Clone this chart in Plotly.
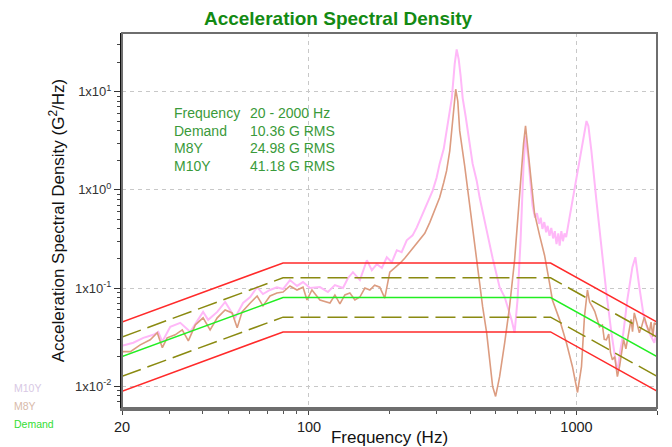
import plotly.graph_objects as go

# ---- profile (demand and tolerance lines) ----
prof_f = [20, 80, 800, 2000]
demand = [0.02, 0.08, 0.08, 0.02]
abort_hi = [0.045, 0.18, 0.18, 0.045]
abort_lo = [0.0089, 0.0357, 0.0357, 0.0089]
alarm_hi = [0.0317, 0.127, 0.127, 0.0317]
alarm_lo = [0.0126, 0.0505, 0.0505, 0.0126]

# ---- M10Y response ----
m10_f = [20, 22.05, 24.03, 26.18, 27.33, 28.29, 30.3, 33.02, 35.97, 39.2, 40.2, 42.0, 45.4,
         48.6, 50.7, 52.9, 56.7, 60.3, 64.0, 67.3, 71.5, 75.9, 80.0, 84.9, 90.2, 95.0,
         100.9, 109.9, 117.7, 125, 134, 139.8, 146, 155, 164.6, 171.8, 179.4, 187.3, 195.4,
         204, 213, 222, 232, 244, 253, 266, 283, 290, 300, 308, 319, 327, 336, 342, 347.5,
         350.5, 356.6, 362.8, 369, 375.5, 385, 392, 409, 423.6, 434.5, 461.6, 473, 486, 516,
         539, 553, 572, 587, 602, 618, 634, 645, 662, 685, 700, 712, 725, 735, 746, 758, 770,
         780, 793, 805, 818, 830, 842, 855, 865, 878, 890, 902, 915, 933, 945, 966, 1009,
         1053, 1090, 1108, 1137, 1187, 1240, 1294, 1351, 1386, 1422, 1459, 1497, 1549, 1618,
         1660, 1689, 1718, 1793, 1872, 1954, 2000]
m10_v = [0.0258, 0.0277, 0.0311, 0.0334, 0.0358, 0.0284, 0.0403, 0.0442, 0.0358, 0.0508,
         0.0571, 0.0474, 0.0571, 0.0722, 0.0598, 0.0497, 0.0705, 0.0811, 0.102, 0.0869,
         0.0955, 0.102, 0.0977, 0.1205, 0.105, 0.115, 0.100, 0.1023, 0.091, 0.107, 0.100,
         0.126, 0.145, 0.1205, 0.192, 0.152, 0.175, 0.160, 0.206, 0.183, 0.243, 0.232,
         0.306, 0.344, 0.415, 0.575, 0.835, 0.984, 1.33, 1.85, 2.62, 3.99, 5.93, 8.61, 14.4,
         19.05, 27.0, 21.4, 14.4, 8.61, 5.66, 3.99, 1.85, 1.24, 0.835, 0.387, 0.273, 0.201,
         0.102, 0.081, 0.0642, 0.0474, 0.035, 0.0756, 0.306, 1.76, 3.55, 1.98, 0.693, 0.52,
         0.58, 0.45, 0.52, 0.40, 0.47, 0.37, 0.43, 0.34, 0.41, 0.32, 0.38, 0.28, 0.36, 0.27,
         0.38, 0.30, 0.36, 0.33, 0.45, 0.55, 0.78, 1.46, 3.16, 5.03, 4.48, 2.5, 0.78, 0.243,
         0.089, 0.035, 0.0209, 0.0138, 0.0235, 0.035, 0.0756, 0.163, 0.206, 0.152, 0.102,
         0.0474, 0.035, 0.0277, 0.0375]

# ---- M8Y response ----
m8_f = [20, 21.5, 23.4, 25.5, 27.1, 28.3, 29.5, 31.6, 33.6, 35.4, 37.6, 40.2, 42.7, 45.4,
        48.6, 51.6, 53.9, 56.2, 60.3, 64.0, 67.3, 71.5, 75.9, 80.0, 84.9, 90.2, 95.0, 98.3,
        102.6, 109.9, 119.8, 125, 130.5, 136.2, 142.2, 148.5, 155, 161.8, 168.9, 176, 184,
        192, 200.5, 209.4, 219, 228, 238, 248.6, 259.5, 271, 283, 295, 308, 319, 327, 336,
        342, 347.5, 350.5, 353.6, 360, 366, 382, 399, 416, 427, 434.5, 446, 461.6, 473, 486,
        498.5, 516, 539, 562, 587, 613, 634, 645, 656, 679, 697, 728, 759.6, 793, 813, 865,
        917, 966, 1009, 1044, 1071, 1099, 1120, 1147, 1170, 1195, 1219, 1250, 1270, 1294,
        1320, 1340, 1362, 1390, 1422, 1450, 1484, 1500, 1530, 1577, 1600, 1620, 1645, 1680,
        1718, 1750, 1793, 1830, 1872, 1900, 1930, 1954, 2000]
m8_v = [0.0225, 0.0225, 0.0264, 0.0297, 0.035, 0.0247, 0.0311, 0.0334, 0.0375, 0.029,
        0.0422, 0.0497, 0.0375, 0.0497, 0.0598, 0.0558, 0.0393, 0.0571, 0.0705, 0.083,
        0.0658, 0.083, 0.089, 0.091, 0.105, 0.0955, 0.102, 0.0756, 0.0955, 0.0756, 0.0705,
        0.085, 0.0689, 0.085, 0.089, 0.0756, 0.081, 0.100, 0.0955, 0.107, 0.102, 0.079,
        0.145, 0.160, 0.179, 0.201, 0.232, 0.267, 0.306, 0.361, 0.467, 0.617, 0.835, 1.19,
        1.57, 2.50, 3.99, 6.36, 9.02, 10.6, 8.0, 3.99, 1.76, 0.693, 0.273, 0.152, 0.102,
        0.0642, 0.035, 0.0186, 0.00993, 0.00787, 0.0125, 0.0277, 0.0642, 0.192, 0.917, 2.94,
        4.49, 2.94, 1.16, 0.575, 0.344, 0.216, 0.112, 0.0756, 0.0474, 0.0277, 0.0158,
        0.00863, 0.0158, 0.0508, 0.0955, 0.072, 0.0642, 0.058, 0.048, 0.0403, 0.042, 0.030,
        0.0297, 0.034, 0.022, 0.0186, 0.020, 0.0125, 0.016, 0.0252, 0.030, 0.024, 0.0403,
        0.048, 0.036, 0.0558, 0.045, 0.035, 0.040, 0.0508, 0.042, 0.035, 0.045, 0.032,
        0.0442, 0.042]

x_ticks = [20, 100, 1000, 2000]
x_tick_text = ["20", "100", "1000", "2000"]
y_ticks = [0.01, 0.1, 1, 10]
y_tick_text = ["1x10<sup>-2</sup>", "1x10<sup>-1</sup>", "1x10<sup>0</sup>", "1x10<sup>1</sup>"]

stats_labels = ["Frequency", "Demand", "M8Y", "M10Y"]
stats_values = ["20 - 2000 Hz", "10.36 G RMS", "24.98 G RMS", "41.18 G RMS"]

FONT = "Liberation Sans, Arial, sans-serif"

fig = go.Figure()
fig.add_trace(go.Scatter(x=m10_f, y=m10_v, mode="lines", name="M10Y",
                         line=dict(color="#FFB8F8", width=2)))
fig.add_trace(go.Scatter(x=m8_f, y=m8_v, mode="lines", name="M8Y",
                         line=dict(color="#DC9C80", width=1.6)))
for vals, col, dash in [(abort_hi, "#FF2A2A", "solid"), (abort_lo, "#FF2A2A", "solid"),
                        (alarm_hi, "#8A8A10", "20px,7px"), (alarm_lo, "#8A8A10", "20px,7px")]:
    fig.add_trace(go.Scatter(x=prof_f, y=vals, mode="lines", showlegend=False,
                             line=dict(color=col, width=1.5, dash=dash)))
fig.add_trace(go.Scatter(x=prof_f, y=demand, mode="lines", name="Demand",
                         line=dict(color="#22EE22", width=1.5)))

annotations = []
row_y = [0.787, 0.740, 0.693, 0.646]
for lab, val, yy in zip(stats_labels, stats_values, row_y):
    annotations.append(dict(x=0.0935, y=yy, xref="paper", yref="paper", text=lab,
                            showarrow=False, xanchor="left", yanchor="middle",
                            font=dict(family=FONT, size=14, color="#3A9A3A")))
    annotations.append(dict(x=0.2355, y=yy, xref="paper", yref="paper", text=val,
                            showarrow=False, xanchor="left", yanchor="middle",
                            font=dict(family=FONT, size=14, color="#3A9A3A")))

legend_names = ["M10Y", "M8Y", "Demand"]
legend_cols = ["#D8C8E4", "#D8BAAA", "#33DD33"]
legend_y = [0.053, 0.005, -0.043]
for nm, col, yy in zip(legend_names, legend_cols, legend_y):
    annotations.append(dict(x=-0.2056, y=yy, xref="paper", yref="paper", text=nm,
                            showarrow=False, xanchor="left", yanchor="middle",
                            font=dict(family=FONT, size=10.5, color=col)))

fig.update_layout(
    width=672, height=447,
    margin=dict(l=122, r=15, t=33, b=39, autoexpand=False),
    paper_bgcolor="white", plot_bgcolor="white",
    showlegend=False,
    title=dict(text="<b>Acceleration Spectral Density</b>", x=0.503, xanchor="center",
               y=1 - 18 / 447, yanchor="middle",
               font=dict(family=FONT, size=19, color="#138A13")),
    annotations=annotations,
    shapes=[dict(type="rect", xref="paper", yref="paper", x0=0, y0=0, x1=1, y1=1,
                 line=dict(color="#6E6E6E", width=2), layer="above")],
)
fig.update_xaxes(type="log", range=[1.30103, 3.30103], automargin=False,
                 tickvals=x_ticks, ticktext=x_tick_text,
                 showline=True, linecolor="#6E6E6E", linewidth=3,
                 ticks="outside", ticklen=4, tickcolor="#444",
                 showgrid=True, gridcolor="#C8C8C8", griddash="4px,4px", gridwidth=1,
                 minor=dict(ticks="outside", ticklen=3, tickcolor="#555", showgrid=False,
                            tickvals=[30, 40, 50, 60, 70, 80, 90, 200, 300, 400, 500, 600,
                                      700, 800, 900]),
                 tickfont=dict(family=FONT, size=14.5, color="#222"),
                 title=dict(text="Frequency (Hz)", standoff=4,
                            font=dict(family=FONT, size=17, color="#111")),
                 zeroline=False)
fig.update_yaxes(type="log", range=[-2.222, 1.598], automargin=False,
                 tickvals=y_ticks, ticktext=y_tick_text,
                 showline=True, linecolor="#111", linewidth=2,
                 ticks="outside", ticklen=6, tickcolor="#333",
                 showgrid=True, gridcolor="#C8C8C8", griddash="4px,4px", gridwidth=1,
                 minor=dict(ticks="outside", ticklen=3, tickcolor="#444", showgrid=False,
                            tickvals=[0.007, 0.008, 0.009, 0.02, 0.03, 0.04, 0.05, 0.06,
                                      0.07, 0.08, 0.09, 0.2, 0.3, 0.4, 0.5, 0.6, 0.7, 0.8,
                                      0.9, 2, 3, 4, 5, 6, 7, 8, 9, 20, 30]),
                 tickfont=dict(family=FONT, size=13, color="#333"),
                 title=dict(text="Acceleration Spectral Density (G<sup>2</sup>/Hz)",
                            standoff=6, font=dict(family=FONT, size=17, color="#111")),
                 zeroline=False)

fig.write_html("out.html")
